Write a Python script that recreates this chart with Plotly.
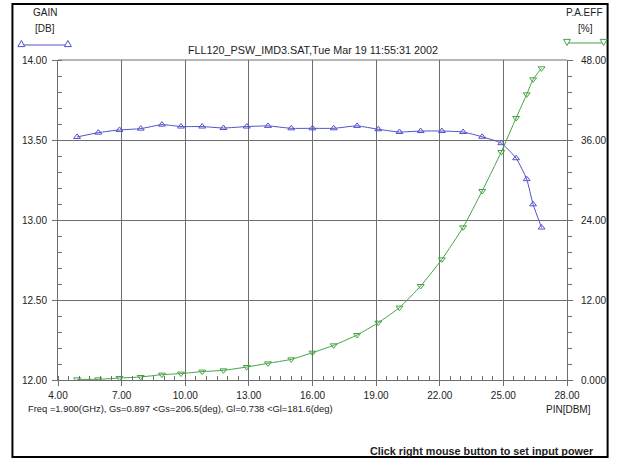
import plotly.graph_objects as go

# ---- data ----
pin = [4.9, 5.9, 6.9, 7.9, 8.9, 9.8, 10.8, 11.8, 12.9, 13.9, 15.0, 16.0, 17.0,
       18.1, 19.1, 20.1, 21.1, 22.1, 23.1, 24.0, 24.9, 25.6, 26.1, 26.4, 26.8]
gain_db = [13.519, 13.546, 13.563, 13.571, 13.596, 13.584, 13.584, 13.575, 13.584,
           13.588, 13.573, 13.573, 13.573, 13.588, 13.567, 13.550, 13.556, 13.556,
           13.550, 13.520, 13.480, 13.386, 13.255, 13.098, 12.953]
pae_pct = [0.1, 0.1, 0.3, 0.45, 0.8, 0.96, 1.26, 1.45, 1.95, 2.5, 3.1, 4.1, 5.2,
           6.75, 8.6, 10.86, 14.1, 18.1, 22.9, 28.35, 34.2, 39.3, 42.85, 45.1, 46.75]

x_ticks = [4, 7, 10, 13, 16, 19, 22, 25, 28]
x_tick_text = ["4.00", "7.00", "10.00", "13.00", "16.00", "19.00", "22.00", "25.00", "28.00"]
gain_ticks = [12.0, 12.5, 13.0, 13.5, 14.0]
gain_tick_text = ["12.00", "12.50", "13.00", "13.50", "14.00"]
pae_ticks = [0, 12, 24, 36, 48]
pae_tick_text = ["0.000", "12.00", "24.00", "36.00", "48.00"]

title_text = "FLL120_PSW_IMD3.SAT,Tue Mar 19 11:55:31 2002"
info_text = "Freq =1.900(GHz), Gs=0.897 <Gs=206.5(deg), Gl=0.738 <Gl=181.6(deg)"
x_label = "PIN[DBM]"
hint_text = "Click right mouse button to set input power"

BLUE = "#5050cc"
GREEN = "#44a444"
GRID = "#6e6e6e"
FONT = "Liberation Sans, Arial, sans-serif"

W, H = 618, 462
L, R, T, B = 58, 46, 60, 82
PW, PH = W - L - R, H - T - B


def px(x):
    return (x - L) / PW


def py(y):
    return (H - B - y) / PH


fig = go.Figure()
fig.add_trace(go.Scatter(
    x=pin, y=gain_db, mode="lines+markers", yaxis="y",
    line=dict(color=BLUE, width=1, shape="spline", smoothing=0.5),
    marker=dict(symbol="triangle-up-open", size=6, color=BLUE, line=dict(width=1)),
    showlegend=False))
fig.add_trace(go.Scatter(
    x=pin, y=pae_pct, mode="lines+markers", yaxis="y2",
    line=dict(color=GREEN, width=1, shape="spline", smoothing=0.5),
    marker=dict(symbol="triangle-down-open", size=6, color=GREEN, line=dict(width=1)),
    showlegend=False))

axis_common = dict(showline=True, linecolor=GRID, linewidth=1, mirror=False,
                   gridcolor=GRID, gridwidth=1, zeroline=False,
                   tickfont=dict(family=FONT, size=10, color="#222"),
                   ticks="outside", ticklen=5, tickcolor=GRID)

fig.update_layout(
    width=W, height=H,
    margin=dict(l=L, r=R, t=T, b=B, pad=0),
    paper_bgcolor="white", plot_bgcolor="white",
    font=dict(family=FONT, size=10, color="#222"),
    xaxis=dict(range=[4, 28], tickvals=x_ticks, ticktext=x_tick_text,
               minor=dict(dtick=0.5, tick0=4, ticks="inside", ticklen=4,
                          tickcolor=GRID, showgrid=False),
               ticklabelstandoff=1, **axis_common),
    yaxis=dict(range=[12, 14], tickvals=gain_ticks, ticktext=gain_tick_text,
               minor=dict(dtick=0.1, tick0=12, ticks="inside", ticklen=4,
                          tickcolor=GRID, showgrid=False),
               ticklabelstandoff=3, **axis_common),
    yaxis2=dict(range=[0, 48], tickvals=pae_ticks, ticktext=pae_tick_text,
                overlaying="y", side="right", showgrid=False,
                minor=dict(dtick=2.4, tick0=0, ticks="outside", ticklen=4,
                           tickcolor=GRID, showgrid=False),
                ticklabelstandoff=6,
                **{k: v for k, v in axis_common.items() if k not in ("gridcolor", "gridwidth")}),
)


def tri_path(cx, cy, up=True, s=3.5):
    if up:
        pts = [(cx, cy - s), (cx - s, cy + s * 0.75), (cx + s, cy + s * 0.75)]
    else:
        pts = [(cx, cy + s), (cx - s, cy - s * 0.75), (cx + s, cy - s * 0.75)]
    return "M " + " L ".join("%f,%f" % (px(a), py(b)) for a, b in pts) + " Z"


shapes = []
# top border of plot area
shapes.append(dict(type="line", xref="paper", yref="paper", x0=0, x1=1, y0=1, y1=1,
                   line=dict(color=GRID, width=1)))
# outer frame
shapes.append(dict(type="rect", xref="paper", yref="paper",
                   x0=px(12), x1=px(613), y0=py(457), y1=py(4),
                   line=dict(color="black", width=2)))
# legend samples
shapes.append(dict(type="line", xref="paper", yref="paper", x0=px(21), x1=px(68),
                   y0=py(45), y1=py(45), line=dict(color=BLUE, width=1)))
shapes.append(dict(type="line", xref="paper", yref="paper", x0=px(572), x1=px(609),
                   y0=py(43), y1=py(43), line=dict(color=GREEN, width=1)))
for cx in (21, 68):
    shapes.append(dict(type="path", xref="paper", yref="paper", path=tri_path(cx, 44, True),
                       line=dict(color=BLUE, width=1), fillcolor="white"))
for cx in (572, 609):
    shapes.append(dict(type="path", xref="paper", yref="paper", path=tri_path(cx, 42, False),
                       line=dict(color=GREEN, width=1), fillcolor="white"))
fig.update_layout(shapes=shapes)

ann = []


def text(x, y, s, anchor="center", size=10, bold=False):
    ann.append(dict(x=px(x), y=py(y), xref="paper", yref="paper", text=("<b>%s</b>" % s) if bold else s,
                    showarrow=False, xanchor=anchor, yanchor="middle",
                    font=dict(family=FONT, size=size, color="#222")))


text(45, 13, "GAIN")
text(45, 29, "[DB]")
text(590, 13, "P.A.EFF")
text(591, 29, "[%]")
text(315, 50, title_text, size=10.8)
text(26, 408, info_text, anchor="left", size=9.4)
text(598, 409, x_label, anchor="right", size=10)
text(601, 451, hint_text, anchor="right", size=10.8, bold=True)
fig.update_layout(annotations=ann)

fig.write_html("out.html", config={"displayModeBar": False},
               post_script="document.body.style.margin='0';document.body.style.overflow='hidden';")
